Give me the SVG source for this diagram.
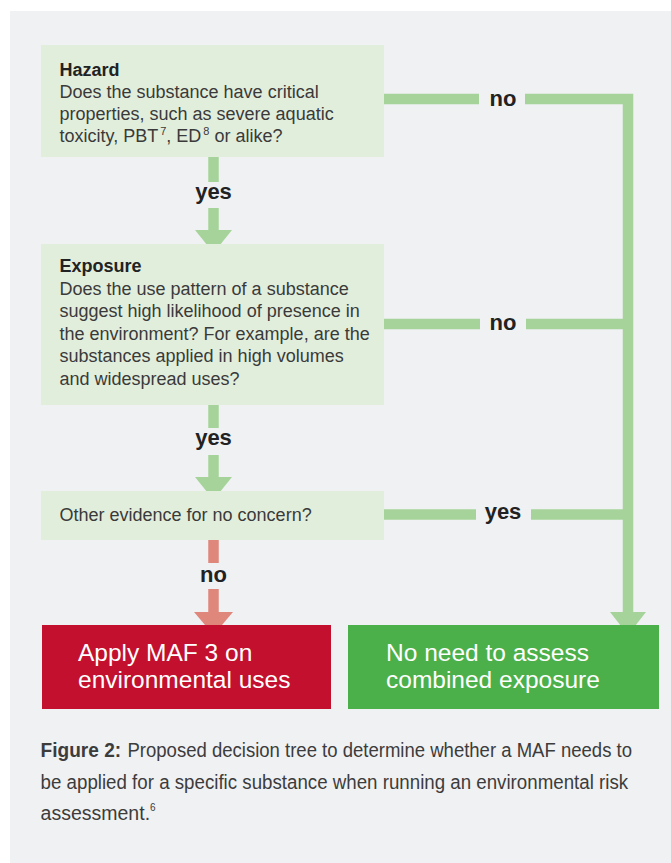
<svg xmlns="http://www.w3.org/2000/svg" width="671" height="863" viewBox="0 0 671 863">
<style>
text{font-family:"Liberation Sans",Arial,sans-serif}
.q{fill:#e2eedc}
.title{font-size:18px;font-weight:bold;fill:#222}
.body{font-size:18px;fill:#3a3a3a}
.lbl{font-size:22px;font-weight:bold;fill:#222;text-anchor:middle}
.big{font-size:24.5px;fill:#fff}
.g{stroke:#a6d39a;stroke-width:10.5;fill:none;stroke-linejoin:miter}
.gh{fill:#a6d39a}
.r{stroke:#e0877c;stroke-width:10.5;fill:none}
.rh{fill:#e0877c}
.cap{font-size:19.5px;fill:#3c3c3c}
.sup{font-size:10px}
</style>
<rect x="0" y="0" width="671" height="863" fill="#ffffff"/>
<rect x="10" y="11" width="661" height="852" fill="#f0f1f3"/>

<g id="connectors">
  <path class="g" d="M213.5,157V182M213.5,208V231"/>
  <polygon class="gh" points="195,230 232,230 213.5,253"/>
  <text class="lbl" x="213.5" y="199">yes</text>
  <path class="g" d="M213.5,405V428M213.5,455V478"/>
  <polygon class="gh" points="195,477 232,477 213.5,500"/>
  <text class="lbl" x="213.5" y="445">yes</text>
  <path class="r" d="M213.5,540V563M213.5,589V613"/>
  <polygon class="rh" points="194,612 233,612 213.5,635"/>
  <text class="lbl" x="213.5" y="582">no</text>
  <path class="g" d="M384,99H479M525,99H628V613"/>
  <polygon class="gh" points="610,612 646,612 628,635"/>
  <text class="lbl" x="503" y="106">no</text>
  <path class="g" d="M384,324H480M526,324H624"/>
  <text class="lbl" x="503" y="330">no</text>
  <path class="g" d="M384,514.5H476M531,514.5H624"/>
  <text class="lbl" x="503" y="519">yes</text>
</g>

<g id="hazard">
  <rect class="q" x="41" y="45" width="343" height="112"/>
  <text class="title" x="59.5" y="76">Hazard</text>
  <text class="body" x="59.5" y="97.5">Does the substance have critical</text>
  <text class="body" x="59.5" y="119.5">properties, such as severe aquatic</text>
  <text class="body" x="59.5" y="142">toxicity, PBT<tspan dx="2" dy="-7" style="font-size:11px">7</tspan><tspan dy="7">, ED</tspan><tspan dx="2" dy="-7" style="font-size:11px">8</tspan><tspan dy="7"> or alike?</tspan></text>
</g>

<g id="exposure">
  <rect class="q" x="41" y="244" width="343" height="161"/>
  <text class="title" x="59.5" y="272">Exposure</text>
  <text class="body" x="59.5" y="294.5">Does the use pattern of a substance</text>
  <text class="body" x="59.5" y="317">suggest high likelihood of presence in</text>
  <text class="body" x="59.5" y="339.5">the environment? For example, are the</text>
  <text class="body" x="59.5" y="362">substances applied in high volumes</text>
  <text class="body" x="59.5" y="384.5">and widespread uses?</text>
</g>

<g id="other">
  <rect class="q" x="41" y="491" width="343" height="49"/>
  <text class="body" x="59.5" y="521">Other evidence for no concern?</text>
</g>

<g id="apply">
  <rect x="42" y="625" width="289" height="84" fill="#c3102f"/>
  <text class="big" x="78" y="661">Apply MAF 3 on</text>
  <text class="big" x="78" y="688">environmental uses</text>
</g>

<g id="noneed">
  <rect x="348" y="625" width="311" height="84" fill="#4bb04a"/>
  <text class="big" x="386" y="661">No need to assess</text>
  <text class="big" x="386" y="688">combined exposure</text>
</g>

<g id="caption">
  <text class="cap" x="40.6" y="757" font-weight="bold" fill="#222" textLength="80.5" lengthAdjust="spacingAndGlyphs">Figure 2:</text>
  <text class="cap" x="127.5" y="757" textLength="504.5" lengthAdjust="spacingAndGlyphs">Proposed decision tree to determine whether a MAF needs to</text>
  <text class="cap" x="40.6" y="788.5" textLength="587.5" lengthAdjust="spacingAndGlyphs">be applied for a specific substance when running an environmental risk</text>
  <text class="cap" x="40.6" y="820">assessment.<tspan class="sup" dy="-9">6</tspan></text>
</g>
</svg>
